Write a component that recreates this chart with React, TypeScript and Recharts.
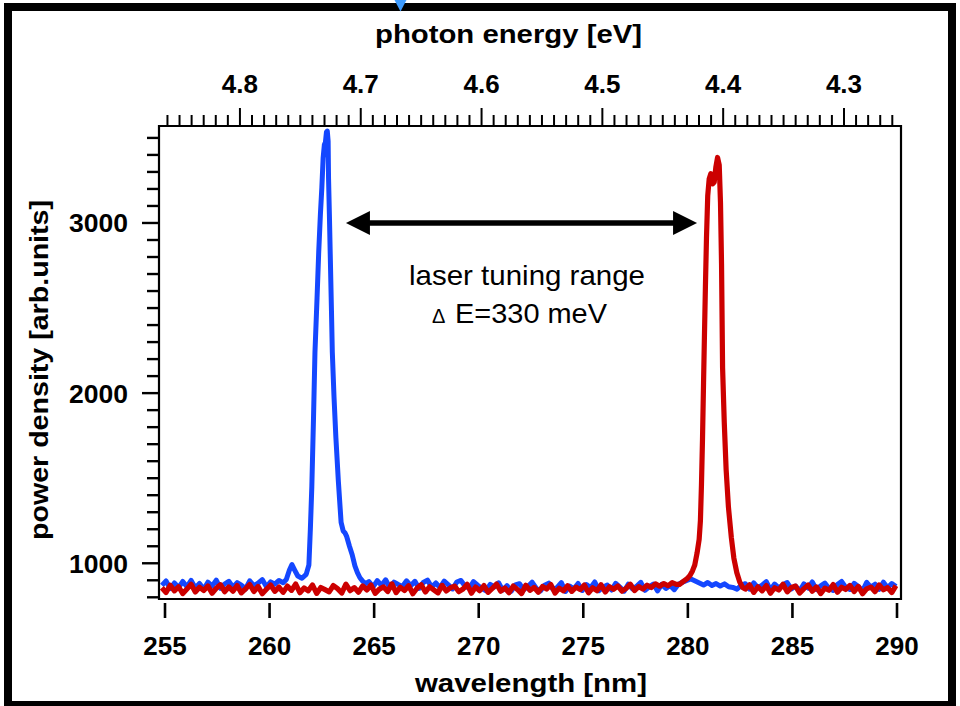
import React from 'react';
import { LineChart, Line, XAxis, YAxis, ReferenceArea, ReferenceLine, ReferenceDot, Label } from 'recharts';

const FONT = '"Liberation Sans", Arial, Helvetica, sans-serif';

// ---------- data (wavelength in nm, power density in arb. units) ----------
const WL_STEP = 0.2;

// blue spectrum: baseline before the peak (starts at 254.85 nm, step 0.2 nm)
const blueBaseAStart = 254.85;
const blueBaseA = [
  870, 896, 851, 884, 858, 893, 862, 899, 855, 881,
  847, 889, 866, 901, 853, 878, 894, 859, 886, 871,
  849, 897, 868, 883, 904, 862, 891, 877, 899, 886,
];
// blue spectrum: peak region
const bluePeakWl = [
  260.8, 260.95, 261.07, 261.2, 261.35, 261.55, 261.75, 261.88, 261.95, 262.02,
  262.1, 262.17, 262.27, 262.35, 262.43, 262.5, 262.56, 262.62, 262.67, 262.72,
  262.76, 262.8, 262.82, 262.86, 262.9, 262.96, 263.0, 263.08, 263.17, 263.29,
  263.42, 263.52, 263.6, 263.68, 263.82, 263.95, 264.08, 264.2, 264.32, 264.45,
  264.6,
];
const bluePeakVal = [
  905, 960, 992, 960, 925, 912, 935, 990, 1200, 1450,
  1850, 2240, 2560, 2830, 3050, 3210, 3380, 3460, 3475, 3535,
  3540, 3480, 3260, 3050, 2820, 2480, 2240, 1980, 1740, 1480,
  1240, 1190, 1180, 1160, 1100, 1050, 985, 945, 915, 895,
  880,
];
// blue spectrum: baseline after the peak (starts at 264.75 nm, step 0.2 nm)
const blueBaseBStart = 264.75;
const blueBaseB = [
  892, 861, 898, 870, 903, 856, 889, 875, 864, 897,
  868, 894, 852, 887, 901, 860, 884, 857, 895, 873,
  849, 890, 899, 865, 853, 892, 871,
  851, 838, 876, 861, 885, 842, 869, 835, 873, 880,
  844, 864, 889, 853, 837, 871, 883, 847, 858, 886,
  834, 866, 850, 881, 840, 875, 856, 890, 839, 859,
  872, 843, 882, 860, 836, 877, 849, 865, 888, 841,
  862, 878, 838, 876, 852, 870, 845,
  877, 889, 899, 908, 896, 884, 872, 887, 869, 881,
  866, 879, 862, 858, 848, 870,
  880, 848, 885, 857, 871, 892, 843, 878, 855, 874,
  887, 849, 866, 838, 879, 854, 890, 845, 868, 884,
  852, 840, 875, 893, 858, 846, 882, 864, 837, 888,
  860, 877, 847, 889, 856, 881, 863,
];

// red spectrum: baseline before the peak (starts at 254.85 nm, step 0.2 nm)
const redBaseAStart = 254.85;
const redBaseA = [
  856, 828, 871, 838, 862, 822, 849, 876, 831, 859,
  840, 867, 824, 853, 874, 833, 861, 836, 869, 826,
  850, 875, 834, 864, 821, 847, 872, 835, 860, 829,
  866, 841, 878, 827, 855, 838, 873, 823, 858, 845,
  832, 869, 851, 825, 877, 839, 857, 830, 867, 843,
  872, 823, 848, 861, 834, 879, 828, 859, 840, 868,
  821, 853, 874, 831, 862, 844, 826, 870, 837, 856,
  866, 833, 849, 876, 824, 860, 839, 869, 829, 852,
  878, 836, 855, 827, 866, 846, 822, 871, 841, 858,
  830, 864, 849, 875, 825, 854, 838, 868, 835, 860,
  845, 872, 826, 856, 839, 874, 831, 862, 847, 867,
  836, 853, 877, 840, 863, 848, 871, 857, 879, 865,
  881, 868, 886, 876,
];
// red spectrum: peak region
const redPeakWl = [
  279.6, 279.77, 279.95, 280.1, 280.22, 280.33, 280.44, 280.54, 280.6, 280.65,
  280.7, 280.75, 280.79, 280.84, 280.89, 280.95, 281.02, 281.1, 281.18, 281.26,
  281.34, 281.42, 281.5, 281.56, 281.61, 281.66, 281.74, 281.83, 281.94, 282.08,
  282.2, 282.34, 282.48, 282.62,
];
const redPeakVal = [
  876, 892, 908, 928, 955, 990, 1060, 1140, 1250, 1460,
  1730, 2060, 2320, 2630, 2910, 3160, 3260, 3290, 3230, 3240,
  3330, 3385, 3340, 3120, 2760, 2150, 1830, 1550, 1330, 1150,
  1030, 945, 890, 858,
];
// red spectrum: baseline after the peak (starts at 282.75 nm, step 0.2 nm)
const redBaseBStart = 282.75;
const redBaseB = [
  848, 873, 829, 862, 838, 869, 824, 856, 843, 877,
  832, 858, 866, 825, 851, 872, 836, 861, 822, 854,
  841, 875, 830, 859, 846, 870, 834, 864, 821, 850,
  860, 833, 873, 844, 857, 828, 868,
];

// peak positions on the photon-energy scale (used to bind the top axis)
const peakEnergies = [4.719, 4.405];
const peakHeights = [3540, 3385];

// axes
const wavelengthDomain = [254.713, 290.191];
const energyDomain = [4.2528, 4.867];
const powerDomain = [790, 3570];
const wavelengthTicks = [255, 260, 265, 270, 275, 280, 285, 290];
const energyMajorTicks = [4.8, 4.7, 4.6, 4.5, 4.4, 4.3];
const energyMinorRange = [4.26, 4.86];
const powerMajorTicks = [1000, 2000, 3000];
const powerMinorRange = [800, 3500];

// annotation
const arrowFrom = 263.65;
const arrowTo = 280.44;
const arrowLevel = 3000;
const annotationAnchor = { x: 272.31, y: 2636 };
const annotationLine1 = 'laser tuning range';
const annotationDelta = 'Δ';
const annotationLine2 = 'E=330 meV';

const xTitle = 'wavelength [nm]';
const topTitle = 'photon energy [eV]';
const yTitle = 'power density [arb.units]';

// ---------- helpers ----------
const gridPoints = (start: number, values: number[]) =>
  values.map((v, i) => ({ wl: Math.round((start + i * WL_STEP) * 1000) / 1000, v }));
const pairPoints = (wls: number[], vals: number[]) => wls.map((wl, i) => ({ wl, v: vals[i] }));

const blueData = [
  ...gridPoints(blueBaseAStart, blueBaseA),
  ...pairPoints(bluePeakWl, bluePeakVal),
  ...gridPoints(blueBaseBStart, blueBaseB),
];
const redData = [
  ...gridPoints(redBaseAStart, redBaseA),
  ...pairPoints(redPeakWl, redPeakVal),
  ...gridPoints(redBaseBStart, redBaseB),
];
const energyData = peakEnergies.map((e, i) => ({ e, v: peakHeights[i] }));

const energyTicks: number[] = [];
for (let k = Math.round(energyMinorRange[0] * 100); k <= Math.round(energyMinorRange[1] * 100); k++) {
  energyTicks.push(k / 100);
}
const powerTicks: number[] = [];
for (let p = powerMinorRange[0]; p <= powerMinorRange[1]; p += 100) powerTicks.push(p);

const isEnergyMajor = (v: number) => energyMajorTicks.some((m) => Math.abs(m - v) < 1e-6);

// ---------- tick renderers ----------
const BottomTick = (props: any) => {
  const { x, y, payload } = props;
  return (
    <g>
      <line x1={x} x2={x} y1={y + 4} y2={y + 19} stroke="#000" strokeWidth={2.6} />
      <text x={x} y={y + 56} textAnchor="middle" fontSize={26} fontWeight="bold" fontFamily={FONT} fill="#000">
        {payload.value}
      </text>
    </g>
  );
};

const TopTick = (props: any) => {
  const { x, y, payload } = props;
  const major = isEnergyMajor(payload.value);
  return (
    <g>
      <line x1={x} x2={x} y1={y} y2={y - (major ? 18 : 11)} stroke="#000" strokeWidth={2} />
      {major && (
        <text x={x} y={y - 33} textAnchor="middle" fontSize={26} fontWeight="bold" fontFamily={FONT} fill="#000">
          {Number(payload.value).toFixed(1)}
        </text>
      )}
    </g>
  );
};

const LeftTick = (props: any) => {
  const { x, y, payload } = props;
  const major = powerMajorTicks.includes(payload.value);
  return (
    <g>
      <line x1={x} x2={x - (major ? 17 : 12)} y1={y} y2={y} stroke="#000" strokeWidth={2.4} />
      {major && (
        <text x={x - 31} y={y + 9.5} textAnchor="end" fontSize={26.5} fontWeight="bold" fontFamily={FONT} fill="#000">
          {payload.value}
        </text>
      )}
    </g>
  );
};

// ---------- titles ----------
const BottomTitle = (props: any) => {
  const vb = props.viewBox;
  return (
    <text x={vb.x + vb.width / 2 + 1} y={vb.y + 93} textAnchor="middle" fontSize={25} fontWeight="bold"
      fontFamily={FONT} fill="#000" textLength={232} lengthAdjust="spacingAndGlyphs">
      {xTitle}
    </text>
  );
};
const TopTitle = (props: any) => {
  const vb = props.viewBox;
  return (
    <text x={vb.x + vb.width / 2 - 21.5} y={vb.y - 3} textAnchor="middle" fontSize={25} fontWeight="bold"
      fontFamily={FONT} fill="#000" textLength={267} lengthAdjust="spacingAndGlyphs">
      {topTitle}
    </text>
  );
};
const LeftTitle = (props: any) => {
  const vb = props.viewBox;
  const cx = vb.x - 11.5;
  const cy = vb.y + vb.height / 2 + 7.5;
  return (
    <text x={cx} y={cy} transform={`rotate(-90 ${cx} ${cy})`} textAnchor="middle" fontSize={26} fontWeight="bold"
      fontFamily={FONT} fill="#000" textLength={340} lengthAdjust="spacingAndGlyphs">
      {yTitle}
    </text>
  );
};

// ---------- annotations ----------
const ArrowShape = (props: any) => {
  const { x1, y1, x2 } = props;
  const head = 24;
  const half = 12;
  return (
    <g>
      <line x1={x1 + head - 2} x2={x2 - head + 2} y1={y1} y2={y1} stroke="#000" strokeWidth={5.5} />
      <polygon points={`${x1},${y1} ${x1 + head},${y1 - half} ${x1 + head},${y1 + half}`} fill="#000" />
      <polygon points={`${x2},${y1} ${x2 - head},${y1 - half} ${x2 - head},${y1 + half}`} fill="#000" />
    </g>
  );
};

const AnnotationText = (props: any) => {
  const { cx, cy } = props;
  return (
    <g>
      <text x={cx} y={cy} textAnchor="middle" fontSize={28} fontFamily={FONT} fill="#000"
        textLength={236} lengthAdjust="spacingAndGlyphs">
        {annotationLine1}
      </text>
      <text x={cx - 95} y={cy + 38} fontSize={20} fontFamily={FONT} fill="#000">
        {annotationDelta}
      </text>
      <text x={cx - 72} y={cy + 38} fontSize={28} fontFamily={FONT} fill="#000"
        textLength={152} lengthAdjust="spacingAndGlyphs">
        {annotationLine2}
      </text>
    </g>
  );
};

export default function App() {
  return (
    <div style={{ position: 'absolute', left: 0, top: 0, width: 960, height: 706, background: '#fff', overflow: 'hidden' }}>
      <LineChart width={960} height={706} margin={{ top: 46, right: 59, bottom: 47, left: 59 }}>
        <XAxis
          dataKey="wl"
          type="number"
          domain={wavelengthDomain}
          allowDataOverflow
          ticks={wavelengthTicks}
          interval={0}
          height={60}
          tickSize={0}
          tickMargin={0}
          axisLine={false}
          tickLine={false}
          tick={BottomTick}
          label={<Label content={BottomTitle} />}
        />
        <XAxis
          xAxisId="top"
          dataKey="e"
          orientation="top"
          type="number"
          domain={energyDomain}
          reversed
          allowDataOverflow
          ticks={energyTicks}
          interval={0}
          height={80}
          tickSize={0}
          tickMargin={0}
          axisLine={false}
          tickLine={false}
          tick={TopTick}
          label={<Label content={TopTitle} />}
        />
        <YAxis
          type="number"
          domain={powerDomain}
          allowDataOverflow
          ticks={powerTicks}
          interval={0}
          width={100}
          tickSize={0}
          tickMargin={0}
          axisLine={false}
          tickLine={false}
          tick={LeftTick}
          label={<Label content={LeftTitle} />}
        />
        <ReferenceArea
          x1={wavelengthDomain[0]}
          x2={wavelengthDomain[1]}
          y1={powerDomain[0]}
          y2={powerDomain[1]}
          fill="none"
          fillOpacity={0}
          stroke="#000"
          strokeWidth={2.2}
          ifOverflow="visible"
        />
        <Line
          xAxisId="top"
          data={energyData}
          dataKey="v"
          type="linear"
          stroke="none"
          dot={false}
          activeDot={false}
          isAnimationActive={false}
        />
        <Line
          data={blueData}
          dataKey="v"
          type="linear"
          stroke="#1447ff"
          strokeWidth={5}
          strokeLinejoin="round"
          dot={false}
          activeDot={false}
          isAnimationActive={false}
        />
        <Line
          data={redData}
          dataKey="v"
          type="linear"
          stroke="#cc0000"
          strokeWidth={5.2}
          strokeLinejoin="round"
          dot={false}
          activeDot={false}
          isAnimationActive={false}
        />
        <ReferenceLine
          segment={[{ x: arrowFrom, y: arrowLevel }, { x: arrowTo, y: arrowLevel }]}
          shape={ArrowShape}
          ifOverflow="visible"
        />
        <ReferenceDot
          x={annotationAnchor.x}
          y={annotationAnchor.y}
          r={0}
          shape={AnnotationText}
          ifOverflow="visible"
        />
      </LineChart>
      <div
        style={{
          position: 'absolute',
          left: 4,
          top: 3,
          width: 952,
          height: 706,
          border: '8px solid #000',
          boxSizing: 'border-box',
          pointerEvents: 'none',
        }}
      />
      <svg width={960} height={20} style={{ position: 'absolute', left: 0, top: 0, pointerEvents: 'none' }}>
        <polygon points="394.5,0 406.5,0 400.5,11.5" fill="#3d9bff" />
      </svg>
    </div>
  );
}
